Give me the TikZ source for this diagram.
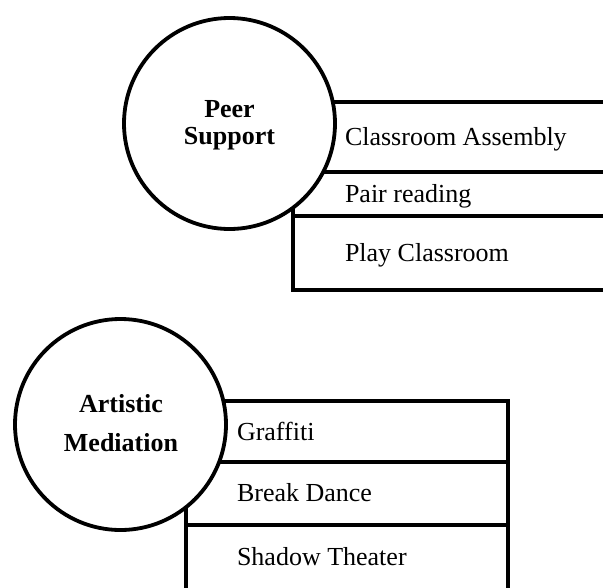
\documentclass[tikz,border=0pt]{standalone}
\usepackage{fontspec}
\setmainfont{Liberation Serif}
\begin{document}
\begin{tikzpicture}[x=1pt,y=-1pt,
  frame/.style={draw=black, fill=white, line width=3.8pt, inner sep=0pt, outer sep=0pt, anchor=north west},
  hub/.style={circle, draw=black, fill=white, line width=3.8pt, inner sep=0pt, outer sep=0pt, minimum size=211pt},
  lbl/.style={inner sep=0pt, outer sep=0pt, anchor=base west, font=\fontsize{26}{30}\selectfont},
  hublbl/.style={inner sep=0pt, outer sep=0pt, anchor=base, font=\fontsize{26}{30}\selectfont\bfseries}]
\clip (0,0) rectangle (603,587);
\useasboundingbox (0,0) rectangle (603,587);
% top group
\node[frame, minimum width=340pt, minimum height=70pt] (b1) at (293,102) {};
\node[frame, minimum width=340pt, minimum height=44pt] (b2) at (293,172) {};
\node[frame, minimum width=340pt, minimum height=74pt] (b3) at (293,216) {};
\node[hub] (ps) at (229.5,123.5) {};
\node[hublbl] (ps1) at (229.5,117) {Peer};
\node[hublbl] (ps2) at (229.5,144.5) {Support};
\node[lbl] (t1) at (345,145) {Classroom Assembly};
\node[lbl] (t2) at (345,202.7) {Pair reading};
\node[lbl] (t3) at (345,261.7) {Play Classroom};
% bottom group
\node[frame, minimum width=322pt, minimum height=61pt] (a1) at (186,401) {};
\node[frame, minimum width=322pt, minimum height=63pt] (a2) at (186,462) {};
\node[frame, minimum width=322pt, minimum height=90pt] (a3) at (186,525) {};
\node[hub] (am) at (120.5,424.5) {};
\node[hublbl] (am1) at (121,412) {Artistic};
\node[hublbl] (am2) at (121,451) {Mediation};
\node[lbl] (u1) at (237,440) {Graffiti};
\node[lbl] (u2) at (237,501.7) {Break Dance};
\node[lbl] (u3) at (237,565) {Shadow Theater};
\end{tikzpicture}
\end{document}
